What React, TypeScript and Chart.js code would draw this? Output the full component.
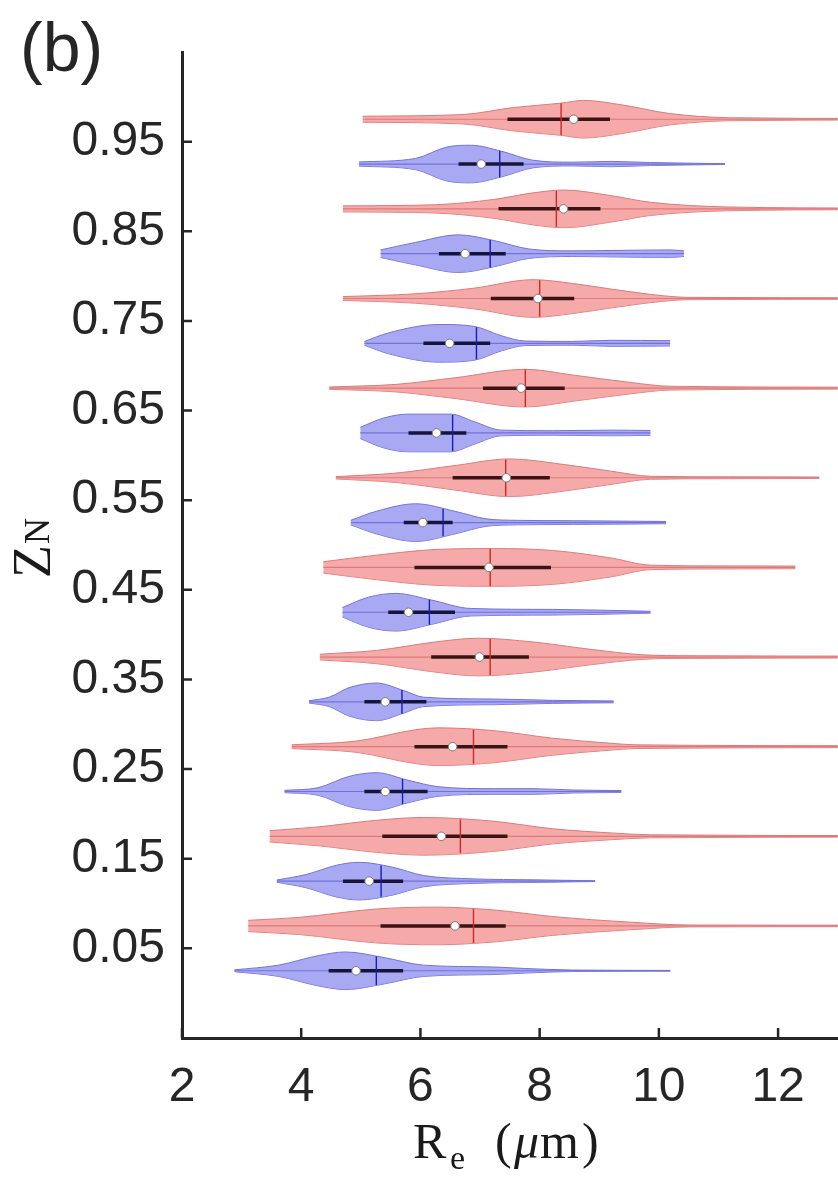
import React, { useEffect, useRef } from 'react';
import { Chart, registerables } from 'chart.js';

Chart.register(...registerables);

// ---------------- data ----------------
const xTicks = [2, 4, 6, 8, 10, 12];
const yTicks = [0.05, 0.15, 0.25, 0.35, 0.45, 0.55, 0.65, 0.75, 0.85, 0.95];
const xRange = [2, 13];
const yRange = [-0.05, 1.05];

// blue violins (Z positions)
const blueZ = [0.025, 0.125, 0.225, 0.325, 0.425, 0.525, 0.625, 0.725, 0.825, 0.925];
const blueMedian = [4.92, 5.14, 5.41, 5.41, 5.8, 6.04, 6.27, 6.49, 6.75, 7.02];
const blueMean = [5.26, 5.34, 5.7, 5.69, 6.15, 6.38, 6.54, 6.94, 7.17, 7.33];
const blueQ1 = [4.46, 4.7, 5.06, 5.06, 5.46, 5.72, 5.8, 6.05, 6.31, 6.64];
const blueQ3 = [5.71, 5.71, 6.12, 6.1, 6.58, 6.54, 6.77, 7.17, 7.43, 7.73];
// density profiles: [Re, relative density]
const blueProfiles: number[][][] = [
  [[2.88, 0.05], [3.62, 0.3], [4.28, 0.8], [4.74, 1.0], [5.39, 0.7], [6.05, 0.3], [7.23, 0.2], [7.76, 0.12], [8.55, 0.04], [10.19, 0.02]],
  [[3.59, 0.06], [4.08, 0.35], [4.6, 0.85], [4.97, 1.0], [5.52, 0.75], [6.05, 0.3], [6.9, 0.12], [7.89, 0.07], [8.93, 0.02]],
  [[3.72, 0.06], [4.28, 0.2], [4.8, 0.8], [5.26, 1.0], [5.79, 0.6], [6.31, 0.25], [7.23, 0.15], [7.89, 0.15], [8.55, 0.08], [9.37, 0.05]],
  [[4.13, 0.06], [4.47, 0.25], [4.8, 0.75], [5.26, 1.0], [5.72, 0.6], [6.05, 0.25], [7.23, 0.15], [8.22, 0.08], [9.24, 0.05]],
  [[4.69, 0.25], [5.13, 0.8], [5.59, 1.0], [6.18, 0.65], [6.84, 0.2], [8.22, 0.15], [9.86, 0.05]],
  [[4.83, 0.12], [5.26, 0.6], [5.92, 1.0], [6.58, 0.6], [7.1, 0.2], [7.63, 0.12], [8.55, 0.1], [10.12, 0.06]],
  [[4.99, 0.3], [5.39, 0.8], [5.79, 1.0], [6.51, 1.0], [6.9, 0.6], [7.36, 0.15], [8.22, 0.12], [9.2, 0.15], [9.86, 0.13]],
  [[5.06, 0.1], [5.46, 0.55], [6.31, 1.0], [6.9, 0.9], [7.36, 0.4], [7.76, 0.12], [8.55, 0.1], [9.2, 0.16], [10.19, 0.14]],
  [[5.33, 0.2], [5.92, 0.6], [6.64, 1.0], [7.23, 0.7], [7.82, 0.25], [8.55, 0.15], [9.2, 0.17], [10.19, 0.2], [10.42, 0.15]],
  [[4.97, 0.11], [5.92, 0.3], [6.44, 0.9], [6.84, 1.0], [7.36, 0.68], [7.89, 0.2], [8.55, 0.1], [9.2, 0.14], [9.86, 0.08], [11.11, 0.02]],
];

// red violins
const redZ = [0.075, 0.175, 0.275, 0.375, 0.475, 0.575, 0.675, 0.775, 0.875, 0.975];
const redMedian = [6.58, 6.35, 6.54, 6.99, 7.15, 7.44, 7.69, 7.97, 8.4, 8.57];
const redMean = [6.89, 6.67, 6.89, 7.17, 7.17, 7.43, 7.76, 8.0, 8.28, 8.36];
const redQ1 = [5.33, 5.36, 5.9, 6.18, 5.9, 6.54, 7.05, 7.18, 7.31, 7.46];
const redQ3 = [7.43, 7.46, 7.46, 7.82, 8.19, 8.17, 8.42, 8.58, 9.02, 9.18];
const redProfiles: number[][][] = [
  [[3.11, 0.3], [3.95, 0.45], [5.26, 0.9], [6.25, 1.0], [7.23, 0.85], [8.22, 0.5], [9.53, 0.2], [10.52, 0.05], [13.6, 0.04]],
  [[3.47, 0.3], [4.28, 0.5], [5.26, 0.85], [6.05, 1.0], [7.23, 0.8], [8.22, 0.4], [9.2, 0.18], [9.86, 0.08], [13.6, 0.04]],
  [[3.84, 0.1], [4.93, 0.3], [5.92, 0.9], [6.31, 1.0], [7.23, 0.85], [8.22, 0.45], [9.2, 0.18], [9.6, 0.1], [13.6, 0.05]],
  [[4.31, 0.15], [5.26, 0.35], [6.25, 0.8], [6.97, 1.0], [7.89, 0.8], [8.88, 0.4], [9.73, 0.12], [10.52, 0.07], [13.6, 0.05]],
  [[4.37, 0.3], [5.26, 0.65], [6.25, 0.95], [7.23, 1.0], [8.22, 0.9], [9.2, 0.5], [9.86, 0.12], [11.17, 0.08], [12.29, 0.07]],
  [[4.58, 0.06], [5.59, 0.25], [6.58, 0.65], [7.5, 1.0], [8.42, 0.7], [9.2, 0.35], [9.86, 0.08], [11.17, 0.05], [12.69, 0.04]],
  [[4.47, 0.06], [5.59, 0.2], [6.58, 0.55], [7.76, 1.0], [8.55, 0.7], [9.53, 0.3], [10.19, 0.1], [13.6, 0.05]],
  [[4.7, 0.1], [5.92, 0.25], [6.9, 0.55], [7.89, 1.0], [8.55, 0.8], [9.2, 0.5], [10.06, 0.15], [10.52, 0.06], [13.6, 0.04]],
  [[4.7, 0.16], [6.25, 0.22], [7.23, 0.5], [7.89, 0.85], [8.41, 1.0], [9.2, 0.7], [9.86, 0.35], [11.17, 0.1], [13.6, 0.04]],
  [[5.03, 0.16], [6.71, 0.25], [7.56, 0.62], [8.35, 0.85], [8.74, 1.0], [9.4, 0.75], [10.19, 0.3], [11.17, 0.08], [13.6, 0.04]],
];

const panelLabel = '(b)';

// ---------------- styles ----------------
const HALF_WIDTH = 0.021; // max half width of a violin in Z units
const AXIS_COLOR = '#262626';
const SANS = '"Liberation Sans", Arial, Helvetica, sans-serif';
const SERIF = '"Liberation Serif", "DejaVu Serif", "Times New Roman", serif';

const blueStyle = { fill: 'rgba(150,150,240,0.82)', edge: '#7272d8', mean: '#1c1cae', box: '#14143c' };
const redStyle = { fill: 'rgba(243,150,150,0.82)', edge: '#dc7a7a', mean: '#cc2a2a', box: '#3a1414' };

function widthAt(profile: number[][], x: number): number {
  for (let i = 0; i < profile.length - 1; i++) {
    const [x0, w0] = profile[i];
    const [x1, w1] = profile[i + 1];
    if (x >= x0 && x <= x1) return w0 + ((w1 - w0) * (x - x0)) / (x1 - x0);
  }
  return 0;
}

function violinDatasets(
  z: number[], profiles: number[][][], med: number[], mean: number[], q1: number[], q3: number[], st: any
) {
  const out: any[] = [];
  z.forEach((zc, i) => {
    const prof = profiles[i];
    const common = { type: 'line', pointRadius: 0, pointHoverRadius: 0 };
    out.push({
      ...common,
      data: prof.map(([x, w]) => ({ x, y: zc + w * HALF_WIDTH })),
      borderColor: st.edge,
      borderWidth: 1,
      backgroundColor: st.fill,
      fill: '+1',
      cubicInterpolationMode: 'monotone',
      order: 6,
    });
    out.push({
      ...common,
      data: prof.map(([x, w]) => ({ x, y: zc - w * HALF_WIDTH })),
      borderColor: st.edge,
      borderWidth: 1,
      fill: false,
      cubicInterpolationMode: 'monotone',
      order: 6,
    });
    // whisker / center line
    out.push({
      ...common,
      data: [{ x: prof[0][0], y: zc }, { x: prof[prof.length - 1][0], y: zc }],
      borderColor: st.edge,
      borderWidth: 1.2,
      fill: false,
      order: 5,
    });
    // interquartile box
    out.push({
      ...common,
      data: [{ x: q1[i], y: zc }, { x: q3[i], y: zc }],
      borderColor: st.box,
      borderWidth: 3.5,
      fill: false,
      order: 4,
    });
    // mean line
    const wm = widthAt(prof, mean[i]) * HALF_WIDTH;
    out.push({
      ...common,
      data: [{ x: mean[i], y: zc - wm }, { x: mean[i], y: zc + wm }],
      borderColor: st.mean,
      borderWidth: 1.4,
      fill: false,
      order: 3,
    });
    // median dot
    out.push({
      type: 'line',
      showLine: false,
      data: [{ x: med[i], y: zc }],
      pointRadius: 4.3,
      pointBackgroundColor: '#ffffff',
      pointBorderColor: '#7a7a7a',
      pointBorderWidth: 1,
      fill: false,
      order: 1,
    });
  });
  return out;
}

const inwardTicks = {
  id: 'inwardTicks',
  afterDraw(chart: any) {
    const { ctx, chartArea, scales } = chart;
    ctx.save();
    ctx.strokeStyle = AXIS_COLOR;
    ctx.lineWidth = 2.5;
    ctx.beginPath();
    xTicks.forEach((v) => {
      const px = scales.x.getPixelForValue(v);
      ctx.moveTo(px, chartArea.bottom);
      ctx.lineTo(px, chartArea.bottom - 10);
    });
    yTicks.forEach((v) => {
      const py = scales.y.getPixelForValue(v);
      ctx.moveTo(chartArea.left, py);
      ctx.lineTo(chartArea.left + 10, py);
    });
    ctx.stroke();
    ctx.restore();
  },
};

const textPlugin = {
  id: 'texts',
  afterDraw(chart: any) {
    const ctx = chart.ctx;
    ctx.save();
    ctx.fillStyle = AXIS_COLOR;
    ctx.textAlign = 'left';
    ctx.textBaseline = 'alphabetic';
    // panel label
    ctx.font = `68px ${SANS}`;
    ctx.fillText(panelLabel, 20, 71);
    // x axis title: R_e (μm)
    ctx.fillStyle = '#1a1a1a';
    ctx.font = `50px ${SERIF}`;
    ctx.fillText('R', 413, 1158);
    ctx.font = `34px ${SERIF}`;
    ctx.fillText('e', 450, 1169);
    ctx.font = `50px ${SERIF}`;
    ctx.fillText('(', 495, 1158);
    ctx.font = `italic 50px ${SERIF}`;
    ctx.fillText('μ', 514, 1158);
    const wmu = ctx.measureText('μ').width;
    ctx.font = `50px ${SERIF}`;
    const mx = Math.max(514 + wmu + 1, 540);
    ctx.fillText('m', mx, 1158);
    const wm = ctx.measureText('m').width;
    ctx.fillText(')', mx + wm + 3, 1158);
    // y axis title: Z_N
    ctx.translate(50, 578);
    ctx.rotate(-Math.PI / 2);
    ctx.font = `54px ${SERIF}`;
    ctx.fillText('Z', 0, 0);
    const wz = ctx.measureText('Z').width;
    ctx.font = `36px ${SERIF}`;
    ctx.fillText('N', wz + 1, -1);
    ctx.restore();
  },
};

export default function App() {
  const ref = useRef<HTMLCanvasElement>(null);
  useEffect(() => {
    const datasets = [
      ...violinDatasets(redZ, redProfiles, redMedian, redMean, redQ1, redQ3, redStyle),
      ...violinDatasets(blueZ, blueProfiles, blueMedian, blueMean, blueQ1, blueQ3, blueStyle),
    ];
    const chart = new Chart(ref.current as HTMLCanvasElement, {
      type: 'line',
      data: { datasets },
      options: {
        animation: false,
        responsive: false,
        devicePixelRatio: 1,
        events: [],
        layout: { padding: { left: 0, right: 1, top: 52, bottom: 0 } },
        plugins: { legend: { display: false }, tooltip: { enabled: false }, title: { display: false } },
        scales: {
          x: {
            type: 'linear',
            min: xRange[0],
            max: xRange[1],
            afterBuildTicks: (s: any) => {
              s.ticks = xTicks.map((v) => ({ value: v }));
            },
            afterFit: (s: any) => {
              s.height = 139;
            },
            grid: { display: false, drawTicks: false },
            border: { display: true, color: AXIS_COLOR, width: 3 },
            ticks: {
              color: AXIS_COLOR,
              font: { family: SANS, size: 48 },
              padding: 21,
              maxRotation: 0,
              autoSkip: false,
              callback: (v: any) => String(v),
            },
          },
          y: {
            type: 'linear',
            min: yRange[0],
            max: yRange[1],
            afterBuildTicks: (s: any) => {
              s.ticks = yTicks.map((v) => ({ value: v }));
            },
            afterFit: (s: any) => {
              s.width = 182;
            },
            grid: { display: false, drawTicks: false },
            border: { display: true, color: AXIS_COLOR, width: 3 },
            ticks: {
              color: AXIS_COLOR,
              font: { family: SANS, size: 48 },
              padding: 17,
              autoSkip: false,
              callback: (v: any) => Number(v).toFixed(2),
            },
          },
        },
      },
      plugins: [inwardTicks, textPlugin],
    } as any);
    return () => chart.destroy();
  }, []);

  return (
    <div
      style={{
        position: 'fixed',
        left: 0,
        top: 0,
        width: 838,
        height: 1177,
        overflow: 'hidden',
        background: '#ffffff',
      }}
    >
      <canvas ref={ref} width={843} height={1177} style={{ display: 'block', width: 843, height: 1177 }} />
    </div>
  );
}
